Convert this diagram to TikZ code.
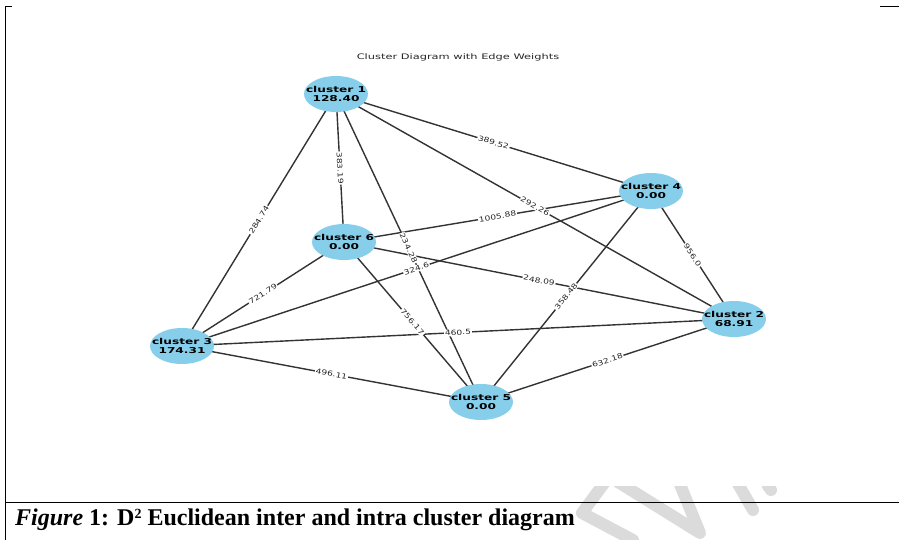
\documentclass[tikz,border=0pt]{standalone}
\usepackage{fontspec}
\newfontfamily\djv[FakeStretch=1.5]{DejaVu Sans}
\newfontfamily\djvl[FakeStretch=1.3]{DejaVu Sans}
\newfontfamily\capfont{Liberation Serif}
\pgfdeclarelayer{wm}
\pgfdeclarelayer{edges}
\pgfdeclarelayer{labels}
\pgfsetlayers{wm,edges,labels,main}
\definecolor{skyblue}{HTML}{87CEEB}
\usetikzlibrary{shapes.geometric}
\tikzset{
  cluster/.style={ellipse, fill=skyblue, minimum width=64pt, minimum height=36pt, inner sep=0pt},
  ctext/.style={align=center, inner sep=0pt, font=\djv\bfseries\fontsize{8.1}{8.7}\selectfont, text=black},
  edgeline/.style={draw=black!80, line width=1.4pt},
  wlabel/.style={midway, sloped, fill=white, inner sep=0.8pt, text=black!85, font=\djvl\fontsize{7}{8}\selectfont},
  frameline/.style={draw=black, line width=0.9pt},
  wmark/.style={draw=black!14, line width=12pt, line cap=round, line join=round}
}
\newcommand\wedgeline[3]{%
  \begin{pgfonlayer}{edges}\draw[edgeline] (#1.center) -- (#2.center);\end{pgfonlayer}%
  \begin{pgfonlayer}{labels}\path (#1.center) -- (#2.center) node[wlabel]{#3};\end{pgfonlayer}}
\newcommand\clusternode[4]{%
  \node[cluster] (#1) at (#2) {};
  \node[ctext] (#1t) at (#1.center) {#3\\#4};}
\begin{document}
\begin{tikzpicture}[x=1pt,y=-1pt]
\useasboundingbox (0,0) rectangle (899,540);
% watermark
\begin{pgfonlayer}{wm}
\begin{scope}
\clip (0,486) rectangle (899,540);
\draw[wmark] (605,482) -- (582,513) -- (633,540);
\draw[wmark] (618,482) -- (700,533) -- (679,482);
\draw[wmark] (737,482) -- (753,510);
\draw[wmark] (768,486) -- (771,490);
\end{scope}
\end{pgfonlayer}
% frame
\coordinate (tl) at (5,6);
\coordinate (tlt) at (12,6);
\coordinate (bl) at (5,540);
\coordinate (trl) at (880,6);
\coordinate (trr) at (899,6);
\coordinate (hl) at (5,502);
\coordinate (hr) at (899,502);
\draw[frameline] (tlt) -- (tl) -- (bl);
\draw[frameline] (trl) -- (trr);
\draw[frameline] (hl) -- (hr);
% title
\node[font=\djv\fontsize{7.6}{9}\selectfont, text=black!85] (title) at (458,57) {Cluster Diagram with Edge Weights};
% nodes
\clusternode{c1}{336,94}{cluster 1}{128.40}
\clusternode{c4}{651,191}{cluster 4}{0.00}
\clusternode{c6}{344,242}{cluster 6}{0.00}
\clusternode{c2}{734,319}{cluster 2}{68.91}
\clusternode{c3}{182,346}{cluster 3}{174.31}
\clusternode{c5}{481,402}{cluster 5}{0.00}
% edges
\wedgeline{c1}{c6}{383.19}
\wedgeline{c1}{c3}{284.74}
\wedgeline{c1}{c5}{234.28}
\wedgeline{c1}{c4}{389.52}
\wedgeline{c1}{c2}{292.26}
\wedgeline{c6}{c4}{1005.88}
\wedgeline{c4}{c3}{324.6}
\wedgeline{c6}{c2}{248.09}
\wedgeline{c4}{c2}{956.0}
\wedgeline{c4}{c5}{358.48}
\wedgeline{c6}{c3}{721.79}
\wedgeline{c6}{c5}{756.17}
\wedgeline{c3}{c2}{460.5}
\wedgeline{c3}{c5}{496.11}
\wedgeline{c5}{c2}{632.18}
% caption
\node[anchor=base west, inner sep=0pt, font=\capfont\fontsize{24}{28}\selectfont\bfseries] (cap) at (15,525)
  {\itshape Figure\upshape\ 1: D\raisebox{6.5pt}{\fontsize{14}{14}\selectfont 2} Euclidean inter and intra cluster diagram};
\end{tikzpicture}
\end{document}
